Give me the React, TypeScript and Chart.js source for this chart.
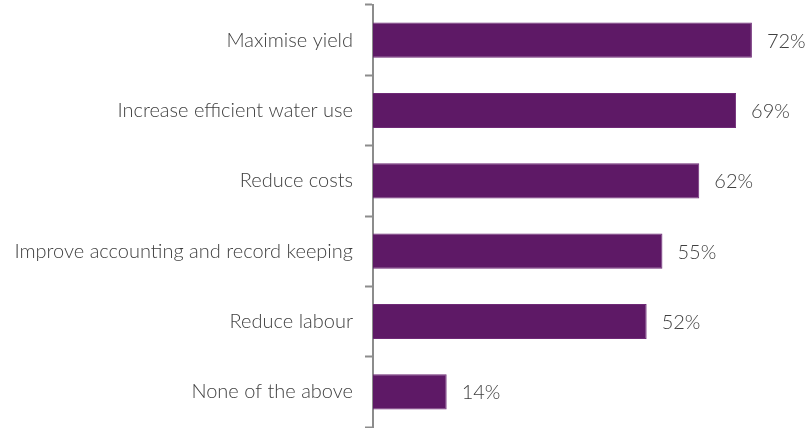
import React, { useEffect, useRef } from "react";
import { Chart, registerables } from "chart.js";

Chart.register(...registerables);

const categories = [
  "Maximise yield",
  "Increase efficient water use",
  "Reduce costs",
  "Improve accounting and record keeping",
  "Reduce labour",
  "None of the above",
];
const values = [72, 69, 62, 55, 52, 14];

const FONT = "Lato";
const TEXT = "#404040";
const SIZE = 20;

const valueLabels = {
  id: "valueLabels",
  afterDatasetsDraw(chart: any) {
    const ctx = chart.ctx;
    const meta = chart.getDatasetMeta(0);
    ctx.save();
    ctx.font = `300 ${SIZE}px ${FONT}`;
    ctx.fillStyle = TEXT;
    ctx.textAlign = "left";
    ctx.textBaseline = "middle";
    meta.data.forEach((bar: any, i: number) => {
      ctx.fillText(values[i] + "%", bar.x + 15, bar.y + 1);
    });
    ctx.restore();
  },
};

export default function App() {
  const ref = useRef<HTMLCanvasElement>(null);
  useEffect(() => {
    const chart = new Chart(ref.current!, {
      type: "bar",
      data: {
        labels: categories,
        datasets: [
          {
            data: values,
            backgroundColor: "#5E1966",
            borderColor: "#6E2A76",
            borderWidth: 1,
            categoryPercentage: 1,
            barPercentage: 0.5,
          },
        ],
      },
      options: {
        indexAxis: "y",
        animation: false,
        responsive: true,
        maintainAspectRatio: false,
        layout: { padding: { top: 5, bottom: 1, right: 14, left: 0 } },
        plugins: { legend: { display: false }, tooltip: { enabled: false } },
        scales: {
          x: { display: false, min: 0, max: 80 },
          y: {
            afterFit(scale: any) {
              scale.width = 373;
              scale.paddingTop = 0;
              scale.paddingBottom = 0;
            },
            border: { display: true, color: "#8C8C8C", width: 2 },
            grid: {
              display: true,
              drawOnChartArea: false,
              drawTicks: true,
              tickLength: 8,
              tickWidth: 2,
              tickColor: "#8C8C8C",
              offset: true,
            },
            ticks: {
              color: TEXT,
              padding: 12,
              font: { family: FONT, size: SIZE, weight: "300" as any },
            },
          },
        },
      },
      plugins: [valueLabels],
    });
    return () => chart.destroy();
  }, []);
  return (
    <div style={{ position: "fixed", left: 0, top: 0, width: 808, height: 428, background: "#fff" }}>
      <canvas ref={ref} />
    </div>
  );
}
